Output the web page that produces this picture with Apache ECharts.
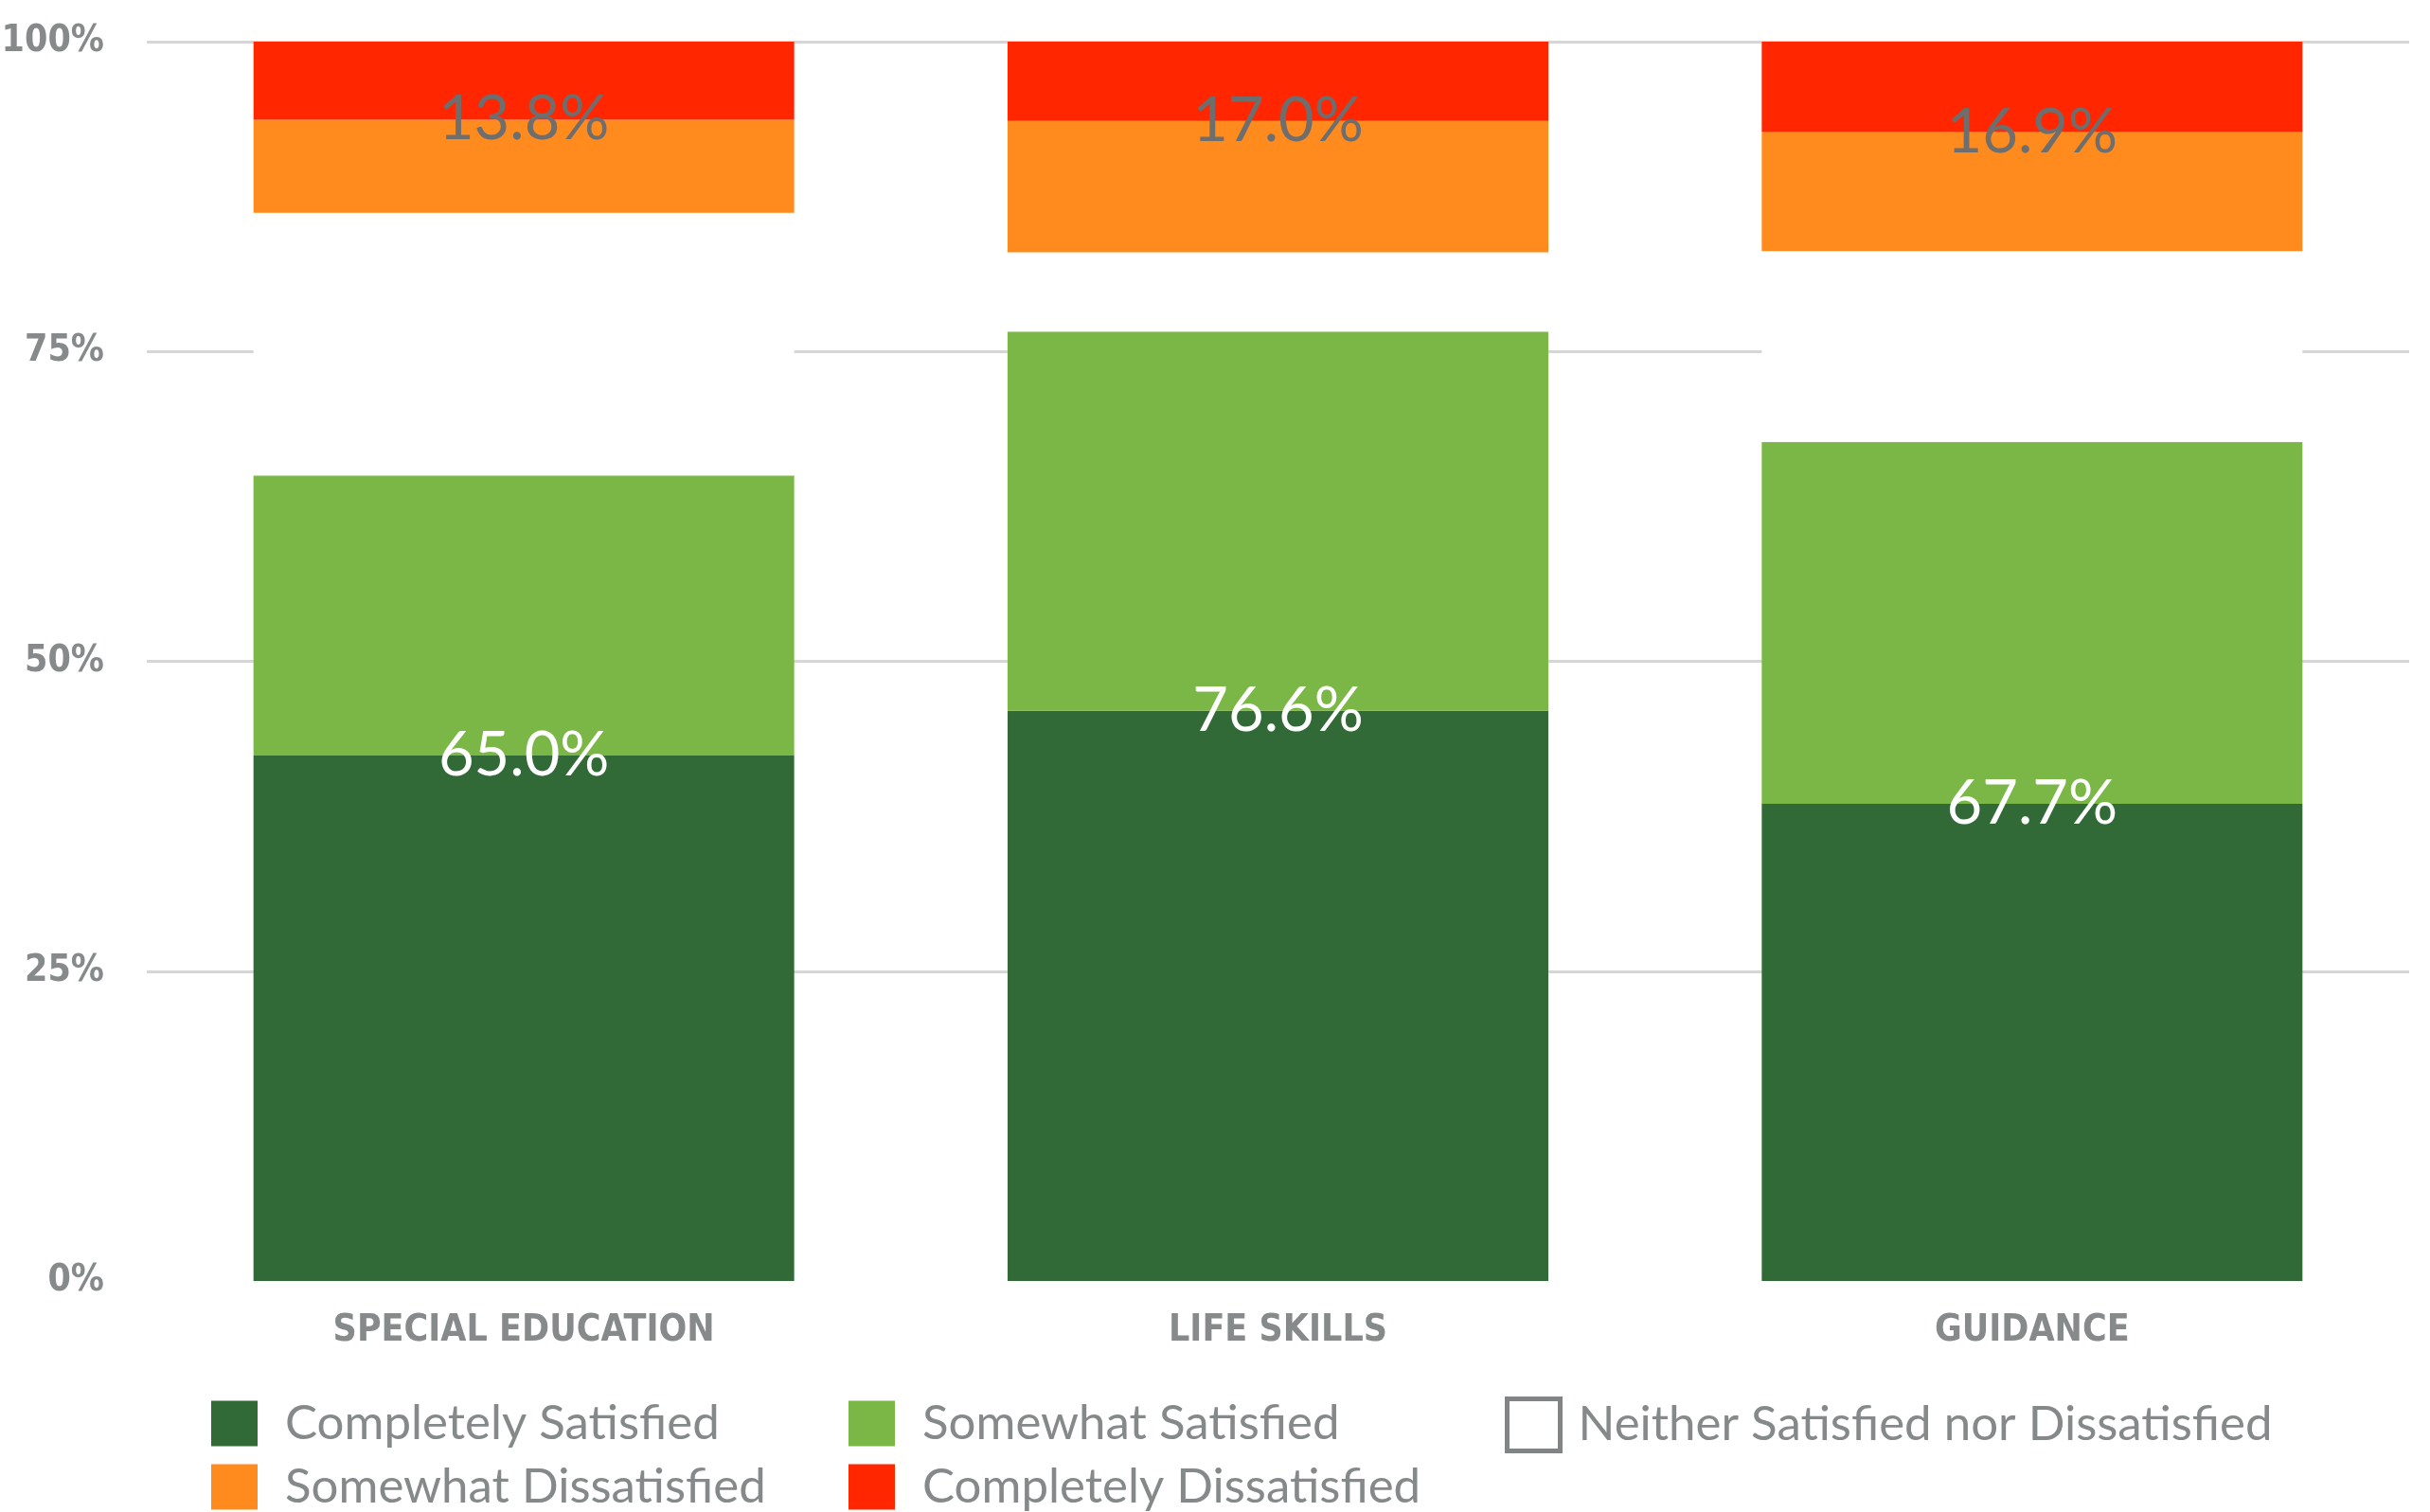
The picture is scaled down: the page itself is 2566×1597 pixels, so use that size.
<!DOCTYPE html>
<html>
<head>
<meta charset="utf-8">
<title>Satisfaction by program</title>
<script src="https://cdn.jsdelivr.net/npm/echarts@6/dist/echarts.min.js"></script>
<style>
  html, body { margin: 0; padding: 0; background: #ffffff; }
  #chart { width: 2566px; height: 1597px; }
</style>
</head>
<body>
<div id="chart"></div>
<script>
// data
const categories = ["SPECIAL EDUCATION", "LIFE SKILLS", "GUIDANCE"];
const completelySatisfied = [42.4, 46.0, 38.5];
const somewhatSatisfied = [22.6, 30.6, 29.2];
const neither = [21.2, 6.4, 15.4];
const somewhatDissatisfied = [7.5, 10.6, 9.6];
const completelyDissatisfied = [6.3, 6.4, 7.3];
const yTicks = [0, 25, 50, 75, 100];

const gray = "#878a8a";
const condensed = "'DejaVu Sans Condensed', 'DejaVu Sans', sans-serif";

const chart = echarts.init(document.getElementById("chart"));

const legendText = {
  color: "#858989",
  fontFamily: "Lato, 'Noto Sans', sans-serif",
  fontSize: 51,
  lineHeight: 50,
  padding: [0, 0, 0, 24]
};

// one legend per item so the columns line up like the original
const legendItem = (name, left, top, extra) => Object.assign({
  left: left,
  top: top,
  padding: 0,
  itemWidth: 49,
  itemHeight: 48,
  icon: "rect",
  selectedMode: false,
  textStyle: legendText,
  data: [name]
}, extra || {});

const bar = (name, data, color, extra) => Object.assign({
  name: name,
  type: "bar",
  stack: "total",
  data: data,
  barWidth: "71.7%",
  itemStyle: { color: color },
  emphasis: { disabled: true }
}, extra || {});

const option = {
  animation: false,
  grid: { left: 155, right: 22, top: 44, bottom: 244, outerBoundsMode: "none" },
  legend: [
    legendItem("Completely Satisfied", 223, 1478),
    legendItem("Somewhat Dissatisfied", 223, 1545),
    legendItem("Somewhat Satisfied", 896, 1478),
    legendItem("Completely Dissatisfied", 896, 1545),
    legendItem("Neither Satisfied nor Dissatisfied", 1589, 1475, {
      itemWidth: 56,
      itemHeight: 55,
      textStyle: Object.assign({}, legendText, { padding: [0, 0, 0, 14] }),
      data: [{
        name: "Neither Satisfied nor Dissatisfied",
        itemStyle: { color: "#ffffff", borderColor: "#808484", borderWidth: 5 }
      }]
    })
  ],
  xAxis: {
    type: "category",
    data: categories,
    axisLine: { show: false },
    axisTick: { show: false },
    axisLabel: {
      interval: 0,
      margin: 33,
      color: gray,
      fontFamily: condensed,
      fontWeight: "bold",
      fontSize: 39
    }
  },
  yAxis: {
    type: "value",
    min: yTicks[0],
    max: yTicks[yTicks.length - 1],
    interval: 25,
    axisLine: { show: false },
    axisTick: { show: false },
    axisLabel: {
      margin: 45,
      color: gray,
      fontFamily: condensed,
      fontWeight: "bold",
      fontSize: 39,
      padding: [0, 0, 12, 0],
      formatter: "{value}%"
    },
    splitLine: { showMinLine: false, lineStyle: { color: "#d6d6d6", width: 3 } }
  },
  series: [
    bar("Completely Satisfied", completelySatisfied, "#316a37"),
    bar("Somewhat Satisfied", somewhatSatisfied, "#7ab746", {
      label: {
        show: true,
        position: ["50%", "100%"],
        align: "center",
        verticalAlign: "middle",
        color: "#ffffff",
        fontFamily: "Lato, 'Noto Sans', sans-serif",
        fontSize: 65,
        formatter: p => (completelySatisfied[p.dataIndex] + somewhatSatisfied[p.dataIndex]).toFixed(1) + "%"
      }
    }),
    bar("Neither Satisfied nor Dissatisfied", neither, "#ffffff"),
    bar("Somewhat Dissatisfied", somewhatDissatisfied, "#ff8a1d"),
    bar("Completely Dissatisfied", completelyDissatisfied, "#ff2600", {
      label: {
        show: true,
        position: ["50%", "100%"],
        align: "center",
        verticalAlign: "middle",
        color: "#6e6e6e",
        fontFamily: "Lato, 'Noto Sans', sans-serif",
        fontSize: 65,
        formatter: p => (somewhatDissatisfied[p.dataIndex] + completelyDissatisfied[p.dataIndex]).toFixed(1) + "%"
      }
    })
  ]
};

chart.setOption(option);
</script>
</body>
</html>
